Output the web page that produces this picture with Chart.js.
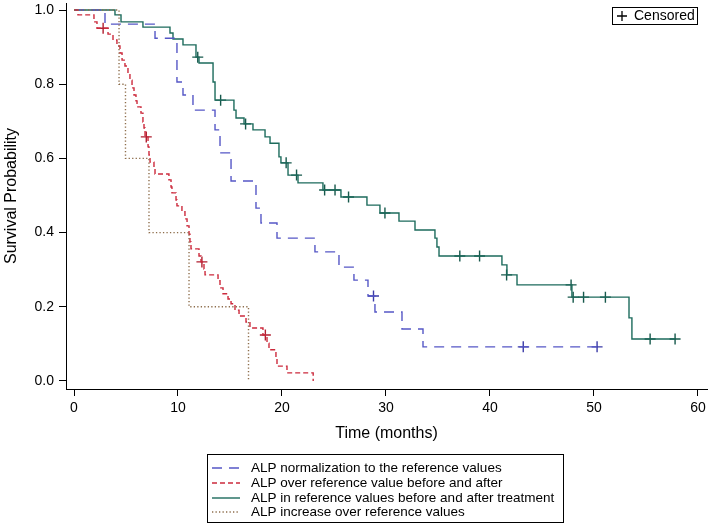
<!DOCTYPE html>
<html lang="en">
  <head>
    <meta charset="UTF-8" />
    <title>Survival by ALP group</title>
    <style>
      body { margin: 0; background: #fff; }
      canvas { display: block; }
    </style>
  </head>
  <body>
    <canvas id="kmChart" width="709" height="528"></canvas>
    <script src="https://cdn.jsdelivr.net/npm/chart.js@4.4.0/dist/chart.umd.min.js"></script>
    <script>
      const xTicks = [0, 10, 20, 30, 40, 50, 60];
      const yTicks = [0, 0.2, 0.4, 0.6, 0.8, 1.0];

      const groupNames = [
        'ALP normalization to the reference values',
        'ALP over reference value before and after',
        'ALP in reference values before and after treatment',
        'ALP increase over reference values'
      ];

      // ALP normalization to the reference values
      const normTime = [0, 2.98, 7.79, 9.90, 10.48, 11.44, 13.56, 14.04, 15.10, 17.50, 17.98, 19.52, 23.17, 25.48, 26.92, 28.27, 28.94, 31.54, 33.56, 50.3];
      const normSurv = [1, 0.962, 0.924, 0.806, 0.771, 0.730, 0.677, 0.615, 0.539, 0.466, 0.426, 0.385, 0.348, 0.307, 0.272, 0.229, 0.186, 0.140, 0.092, 0.092];
      const normCensTime = [28.8, 43.2, 50.3];
      const normCensSurv = [0.229, 0.092, 0.092];

      // ALP over reference value before and after
      const overTime = [0, 0.38, 1.92, 2.21, 3.27, 3.75, 4.13, 4.42, 4.62, 4.90, 5.19, 5.38, 5.58, 5.77, 5.96, 6.06, 6.44, 6.63, 6.73, 6.83, 7.12, 7.21, 7.31, 7.69, 7.79, 9.13, 9.33, 9.42, 9.81, 9.90, 10.38, 10.67, 10.87, 11.06, 11.15, 11.25, 12.02, 12.21, 12.50, 12.60, 13.85, 14.04, 14.33, 14.81, 15.10, 15.48, 15.87, 16.54, 16.92, 18.17, 18.56, 18.75, 19.42, 19.52, 20.48, 23.0];
      const overSurv = [1, 0.987, 0.968, 0.951, 0.935, 0.919, 0.903, 0.884, 0.865, 0.849, 0.830, 0.811, 0.790, 0.771, 0.755, 0.739, 0.722, 0.698, 0.682, 0.658, 0.631, 0.609, 0.590, 0.574, 0.558, 0.542, 0.523, 0.507, 0.488, 0.472, 0.456, 0.437, 0.418, 0.396, 0.375, 0.356, 0.337, 0.321, 0.302, 0.286, 0.270, 0.251, 0.235, 0.221, 0.208, 0.191, 0.175, 0.159, 0.143, 0.124, 0.102, 0.084, 0.062, 0.040, 0.022, 0];
      const overCensTime = [2.8, 6.95, 12.3, 18.4];
      const overCensSurv = [0.951, 0.658, 0.321, 0.124];

      // ALP in reference values before and after treatment
      const inTime = [0, 3.94, 4.52, 6.63, 9.23, 9.52, 10.48, 11.73, 12.02, 13.37, 13.56, 15.38, 15.58, 16.35, 17.21, 18.37, 18.85, 19.71, 19.90, 20.58, 21.54, 23.94, 25.67, 28.17, 29.42, 31.25, 32.79, 34.71, 34.90, 35.10, 41.15, 41.63, 42.60, 47.88, 53.37, 53.65, 57.8];
      const inSurv = [1, 0.987, 0.968, 0.954, 0.938, 0.922, 0.906, 0.873, 0.857, 0.806, 0.757, 0.730, 0.709, 0.693, 0.677, 0.658, 0.641, 0.604, 0.588, 0.555, 0.534, 0.515, 0.496, 0.474, 0.453, 0.431, 0.407, 0.385, 0.361, 0.337, 0.313, 0.286, 0.259, 0.226, 0.170, 0.113, 0.113];
      const inCensTime = [11.9, 14.1, 16.5, 20.4, 21.4, 24.1, 25.1, 26.4, 29.9, 37.1, 39.0, 41.6, 47.8, 48.0, 49.0, 51.1, 55.4, 57.8];
      const inCensSurv = [0.873, 0.757, 0.693, 0.588, 0.555, 0.515, 0.515, 0.496, 0.453, 0.337, 0.337, 0.286, 0.259, 0.226, 0.226, 0.226, 0.113, 0.113];

      // ALP increase over reference values
      const incTime = [0, 4.33, 4.95, 7.21, 11.06, 16.78];
      const incSurv = [1, 0.8, 0.6, 0.4, 0.2, 0];

      const font = '"Liberation Sans", Arial, sans-serif';

      const toPts = (xs, ys) => xs.map((x, i) => ({ x: x, y: ys[i] }));

      const lineStyles = [
        { color: '#5557c6', dash: [10, 7], width: 1.4 },
        { color: '#cc2a3c', dash: [5, 3], width: 1.4 },
        { color: '#1c6b5c', dash: [], width: 1.4 },
        { color: '#8e6e4c', dash: [1.3, 2.2], width: 1.4 }
      ];
      const censColors = ['#3c3ca8', '#b01f30', '#17594c'];

      const lineSet = (i, xs, ys) => ({
        label: groupNames[i],
        data: toPts(xs, ys),
        showLine: true,
        stepped: 'before',
        borderColor: lineStyles[i].color,
        borderDash: lineStyles[i].dash,
        borderWidth: lineStyles[i].width,
        pointRadius: 0,
        fill: false
      });

      const censSet = (i, xs, ys) => ({
        label: 'Censored',
        data: toPts(xs, ys),
        showLine: false,
        pointStyle: 'cross',
        pointRadius: 5.5,
        pointBorderWidth: 1.4,
        borderColor: censColors[i],
        backgroundColor: censColors[i]
      });

      const datasets = [
        lineSet(3, incTime, incSurv),
        lineSet(1, overTime, overSurv),
        lineSet(0, normTime, normSurv),
        lineSet(2, inTime, inSurv),
        censSet(0, normCensTime, normCensSurv),
        censSet(1, overCensTime, overCensSurv),
        censSet(2, inCensTime, inCensSurv)
      ];

      const decor = {
        id: 'decor',
        afterDraw(chart) {
          const ctx = chart.ctx;
          const area = chart.chartArea;
          ctx.save();
          ctx.fillStyle = '#000';
          ctx.textBaseline = 'middle';

          // axis titles
          ctx.font = '16px ' + font;
          ctx.textAlign = 'center';
          ctx.fillText('Time (months)', (area.left + area.right) / 2, 434);
          ctx.save();
          ctx.translate(12, (area.top + area.bottom) / 2);
          ctx.rotate(-Math.PI / 2);
          ctx.fillText('Survival Probability', 0, 0);
          ctx.restore();

          // group legend under the plot
          ctx.strokeStyle = '#000';
          ctx.lineWidth = 1;
          ctx.setLineDash([]);
          ctx.strokeRect(207.5, 454.5, 356, 68);
          ctx.font = '13.5px ' + font;
          ctx.textAlign = 'left';
          const rowY = [468, 483, 498, 512];
          groupNames.forEach((name, i) => {
            const st = lineStyles[i];
            ctx.beginPath();
            ctx.strokeStyle = st.color;
            ctx.lineWidth = st.width;
            ctx.setLineDash(st.dash);
            ctx.moveTo(212, rowY[i]);
            ctx.lineTo(240, rowY[i]);
            ctx.stroke();
            ctx.fillStyle = '#000';
            ctx.fillText(name, 251, rowY[i]);
          });

          // censored key
          ctx.setLineDash([]);
          ctx.strokeStyle = '#000';
          ctx.lineWidth = 1;
          ctx.strokeRect(612.5, 7.5, 85, 17);
          ctx.beginPath();
          ctx.lineWidth = 1.3;
          ctx.moveTo(617, 16);
          ctx.lineTo(627, 16);
          ctx.moveTo(622, 11);
          ctx.lineTo(622, 21);
          ctx.stroke();
          ctx.font = '14px ' + font;
          ctx.fillText('Censored', 634, 16.5);
          ctx.restore();
        }
      };

      const options = {
        responsive: false,
        animation: false,
        devicePixelRatio: 1,
        layout: { autoPadding: false, padding: { top: 3, right: 2, left: 0, bottom: 0 } },
        plugins: {
          legend: { display: false },
          tooltip: { enabled: false }
        },
        scales: {
          x: {
            type: 'linear',
            min: -0.77,
            max: 60.87,
            afterBuildTicks: s => { s.ticks = xTicks.map(v => ({ value: v })); },
            afterFit: s => {
              s.height = 139;
              s.paddingLeft = 0;
              s.paddingRight = 0;
            },
            ticks: {
              color: '#000',
              font: { family: font, size: 14 },
              padding: 4,
              maxRotation: 0,
              autoSkip: false
            },
            grid: { drawOnChartArea: false, drawTicks: true, tickLength: 7, color: '#000' },
            border: { display: true, color: '#000', width: 1 }
          },
          y: {
            type: 'linear',
            min: -0.0216,
            max: 1.0189,
            afterBuildTicks: s => { s.ticks = yTicks.map(v => ({ value: v })); },
            afterFit: s => {
              s.width = 66;
              s.paddingTop = 0;
              s.paddingBottom = 0;
            },
            ticks: {
              color: '#000',
              font: { family: font, size: 14 },
              padding: 5,
              callback: v => v.toFixed(1)
            },
            grid: { drawOnChartArea: false, drawTicks: true, tickLength: 7, color: '#000' },
            border: { display: true, color: '#000', width: 1 }
          }
        }
      };

      const ctx = document.getElementById('kmChart').getContext('2d');
      new Chart(ctx, {
        type: 'scatter',
        data: { datasets },
        options,
        plugins: [decor]
      });
    </script>
  </body>
</html>
